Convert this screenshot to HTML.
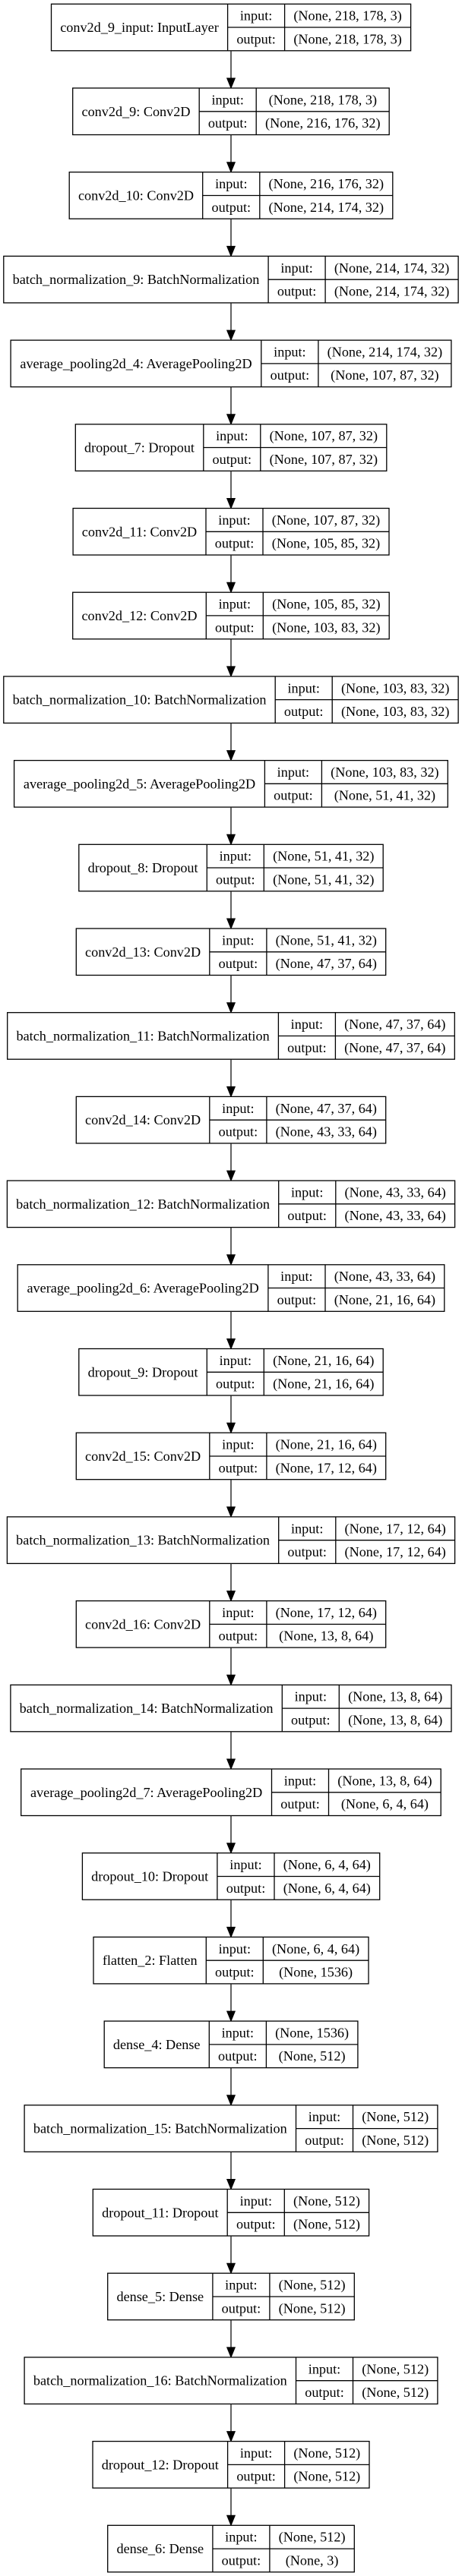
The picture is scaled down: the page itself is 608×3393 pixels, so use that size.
<!DOCTYPE html>
<html><head><meta charset="utf-8">
<style>
html,body{margin:0;padding:0;background:#fff;}
svg{display:block;}
</style></head>
<body>
<svg id="s" xmlns="http://www.w3.org/2000/svg" width="608" height="3393" viewBox="0 0 608 3393"></svg>
<script>
var N=[
["conv2d_9_input: InputLayer","(None, 218, 178, 3)","(None, 218, 178, 3)"],
["conv2d_9: Conv2D","(None, 218, 178, 3)","(None, 216, 176, 32)"],
["conv2d_10: Conv2D","(None, 216, 176, 32)","(None, 214, 174, 32)"],
["batch_normalization_9: BatchNormalization","(None, 214, 174, 32)","(None, 214, 174, 32)"],
["average_pooling2d_4: AveragePooling2D","(None, 214, 174, 32)","(None, 107, 87, 32)"],
["dropout_7: Dropout","(None, 107, 87, 32)","(None, 107, 87, 32)"],
["conv2d_11: Conv2D","(None, 107, 87, 32)","(None, 105, 85, 32)"],
["conv2d_12: Conv2D","(None, 105, 85, 32)","(None, 103, 83, 32)"],
["batch_normalization_10: BatchNormalization","(None, 103, 83, 32)","(None, 103, 83, 32)"],
["average_pooling2d_5: AveragePooling2D","(None, 103, 83, 32)","(None, 51, 41, 32)"],
["dropout_8: Dropout","(None, 51, 41, 32)","(None, 51, 41, 32)"],
["conv2d_13: Conv2D","(None, 51, 41, 32)","(None, 47, 37, 64)"],
["batch_normalization_11: BatchNormalization","(None, 47, 37, 64)","(None, 47, 37, 64)"],
["conv2d_14: Conv2D","(None, 47, 37, 64)","(None, 43, 33, 64)"],
["batch_normalization_12: BatchNormalization","(None, 43, 33, 64)","(None, 43, 33, 64)"],
["average_pooling2d_6: AveragePooling2D","(None, 43, 33, 64)","(None, 21, 16, 64)"],
["dropout_9: Dropout","(None, 21, 16, 64)","(None, 21, 16, 64)"],
["conv2d_15: Conv2D","(None, 21, 16, 64)","(None, 17, 12, 64)"],
["batch_normalization_13: BatchNormalization","(None, 17, 12, 64)","(None, 17, 12, 64)"],
["conv2d_16: Conv2D","(None, 17, 12, 64)","(None, 13, 8, 64)"],
["batch_normalization_14: BatchNormalization","(None, 13, 8, 64)","(None, 13, 8, 64)"],
["average_pooling2d_7: AveragePooling2D","(None, 13, 8, 64)","(None, 6, 4, 64)"],
["dropout_10: Dropout","(None, 6, 4, 64)","(None, 6, 4, 64)"],
["flatten_2: Flatten","(None, 6, 4, 64)","(None, 1536)"],
["dense_4: Dense","(None, 1536)","(None, 512)"],
["batch_normalization_15: BatchNormalization","(None, 512)","(None, 512)"],
["dropout_11: Dropout","(None, 512)","(None, 512)"],
["dense_5: Dense","(None, 512)","(None, 512)"],
["batch_normalization_16: BatchNormalization","(None, 512)","(None, 512)"],
["dropout_12: Dropout","(None, 512)","(None, 512)"],
["dense_6: Dense","(None, 512)","(None, 3)"]
];
var FS=18.2, PAD=23.5, CX=304, T0=5.3, P=110.7, H=61.5;
var c=document.createElement("canvas").getContext("2d");
c.font=FS+"px 'Liberation Serif', serif";
function mw(t){return c.measureText(t).width;}
var s=document.getElementById("s"), out=[];
var ioW=mw("output:")+PAD;
function txt(x,y,t){return '<text x="'+x.toFixed(1)+'" y="'+y.toFixed(1)+'" text-anchor="middle" dominant-baseline="central">'+t+'</text>';}
for(var i=0;i<N.length;i++){
  var n=N[i];
  var lw=mw(n[0])+PAD, rw=Math.max(mw(n[1]),mw(n[2]))+PAD;
  var W=lw+ioW+rw, x0=CX-W/2, y0=T0+P*i, x1=x0+lw, x2=x1+ioW, xe=x0+W, ym=y0+H/2;
  out.push('<rect x="'+x0.toFixed(1)+'" y="'+y0.toFixed(1)+'" width="'+W.toFixed(1)+'" height="'+H+'" fill="#fff" stroke="#000" stroke-width="1.3"/>');
  out.push('<line x1="'+x1.toFixed(1)+'" y1="'+y0.toFixed(1)+'" x2="'+x1.toFixed(1)+'" y2="'+(y0+H).toFixed(1)+'" stroke="#000" stroke-width="1.3"/>');
  out.push('<line x1="'+x2.toFixed(1)+'" y1="'+y0.toFixed(1)+'" x2="'+x2.toFixed(1)+'" y2="'+(y0+H).toFixed(1)+'" stroke="#000" stroke-width="1.3"/>');
  out.push('<line x1="'+x1.toFixed(1)+'" y1="'+ym.toFixed(1)+'" x2="'+xe.toFixed(1)+'" y2="'+ym.toFixed(1)+'" stroke="#000" stroke-width="1.3"/>');
  out.push(txt((x0+x1)/2,ym,n[0]));
  out.push(txt((x1+x2)/2,y0+H/4,"input:"));
  out.push(txt((x1+x2)/2,y0+3*H/4,"output:"));
  out.push(txt((x2+xe)/2,y0+H/4,n[1]));
  out.push(txt((x2+xe)/2,y0+3*H/4,n[2]));
  if(i<N.length-1){
    var yb=y0+H, yn=T0+P*(i+1);
    out.push('<line x1="'+CX+'" y1="'+yb.toFixed(1)+'" x2="'+CX+'" y2="'+(yn-12).toFixed(1)+'" stroke="#222" stroke-width="1.4"/>');
    out.push('<polygon points="'+(CX-5.3)+','+(yn-13).toFixed(1)+' '+(CX+5.3)+','+(yn-13).toFixed(1)+' '+CX+','+yn.toFixed(1)+'" fill="#000" stroke="#000" stroke-width="1"/>');
  }
}
s.innerHTML='<g font-family="\'Liberation Serif\', serif" font-size="'+FS+'" fill="#000">'+out.join("")+'</g>';
</script>
</body></html>
